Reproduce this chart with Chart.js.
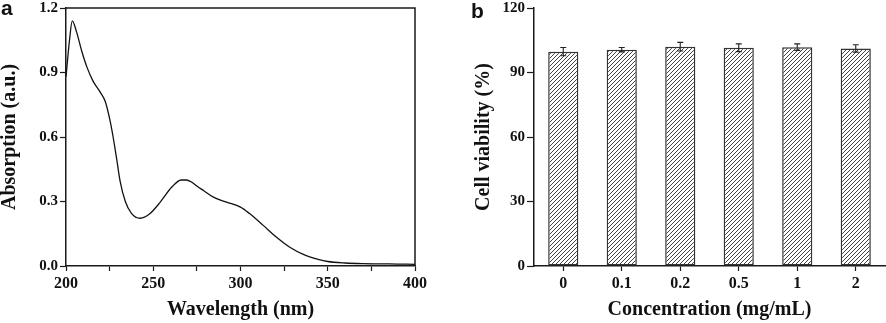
<!DOCTYPE html>
<html>
<head>
<meta charset="utf-8">
<script src="https://cdn.jsdelivr.net/npm/chart.js@4/dist/chart.umd.min.js"></script>
<style>
  html, body { margin: 0; padding: 0; background: #fff; }
  body { width: 886px; height: 323px; position: relative; overflow: hidden; }
  canvas { position: absolute; top: 0; }
  #ca { left: 0; }
  #cb { left: 440px; }
  .plbl { position: absolute; font-family: "Liberation Sans", Arial, sans-serif; font-weight: bold; line-height: 1; color: #111; }
</style>
</head>
<body>
<canvas id="ca" width="440" height="323"></canvas>
<canvas id="cb" width="446" height="323"></canvas>
<div class="plbl" style="left:1px; top:-3px; font-size:21px;">a</div>
<div class="plbl" style="left:471px; top:0px; font-size:21px;">b</div>
<script>
// ---- Panel a: UV-Vis absorption spectrum ----
const wavelength = [200, 202, 203.6, 206, 209, 212, 215.5, 219.5, 222.5, 225, 227, 229, 231, 234, 237.5, 242.5, 248, 254, 260.5, 266, 269, 272, 275, 279, 284.5, 292, 300, 305, 313, 320.5, 328.5, 336, 344.5, 350, 360, 370, 380, 390, 400];
const absorption = [0.88, 1.05, 1.14, 1.09, 1.0, 0.925, 0.86, 0.81, 0.765, 0.685, 0.60, 0.50, 0.395, 0.30, 0.245, 0.222, 0.243, 0.297, 0.366, 0.40, 0.40, 0.39, 0.372, 0.35, 0.32, 0.297, 0.274, 0.245, 0.189, 0.135, 0.086, 0.054, 0.031, 0.021, 0.014, 0.011, 0.010, 0.009, 0.008];
const absTicks = [0, 0.3, 0.6, 0.9, 1.2];
const wlTicks = [200, 250, 300, 350, 400];

// ---- Panel b: cell viability ----
const concentrations = ['0', '0.1', '0.2', '0.5', '1', '2'];
const viability = [99.7, 100.6, 102.0, 101.5, 101.8, 101.2];
const viabilityErr = [1.9, 1.0, 2.0, 1.8, 1.5, 1.7];
const viaTicks = [0, 30, 60, 90, 120];

const SERIF = '"Liberation Serif", "Times New Roman", serif';
const AXIS = '#1a1a1a';

const boxPlugin = {
  id: 'boxPlugin',
  afterDraw(chart) {
    const a = chart.chartArea, ctx = chart.ctx;
    ctx.save();
    ctx.strokeStyle = AXIS;
    ctx.lineWidth = 1.5;
    ctx.beginPath();
    ctx.moveTo(a.left, a.top);
    ctx.lineTo(a.right, a.top);
    ctx.lineTo(a.right, a.bottom);
    ctx.stroke();
    ctx.restore();
  }
};

new Chart(document.getElementById('ca'), {
  type: 'line',
  data: {
    datasets: [{
      data: wavelength.map((w, i) => ({ x: w, y: absorption[i] })),
      borderColor: '#111',
      borderWidth: 1.3,
      pointRadius: 0,
      cubicInterpolationMode: 'monotone',
      fill: false
    }]
  },
  options: {
    responsive: false,
    animation: false,
    events: [],
    layout: { padding: { top: 6, right: 25, bottom: 3, left: 0 } },
    plugins: { legend: { display: false }, tooltip: { enabled: false } },
    scales: {
      x: {
        type: 'linear', min: 200, max: 400,
        afterFit(s) { s.height = 54; },
        border: { display: true, color: AXIS, width: 1.5 },
        grid: { drawOnChartArea: false, drawTicks: true, tickLength: 5, color: AXIS, tickWidth: 1.2 },
        ticks: {
          stepSize: 25, autoSkip: false, maxRotation: 0, padding: 3,
          color: '#111', font: { family: SERIF, size: 16, weight: 'bold' },
          callback: v => (wlTicks.includes(v) ? String(v) : '')
        },
        title: { display: true, text: 'Wavelength (nm)', color: '#111', padding: 0,
                 font: { family: SERIF, size: 20, weight: 'bold', lineHeight: 1 } }
      },
      y: {
        min: 0, max: 1.2,
        afterFit(s) { s.width = 66; },
        afterBuildTicks(s) { s.ticks = absTicks.map(v => ({ value: v })); },
        border: { display: true, color: AXIS, width: 1.5 },
        grid: { drawOnChartArea: false, drawTicks: true, tickLength: 6, color: AXIS, tickWidth: 1.2 },
        ticks: {
          padding: 2, color: '#111', font: { family: SERIF, size: 15, weight: 'bold', lineHeight: 0.8 },
          callback: v => Number(v).toFixed(1)
        },
        title: { display: true, text: 'Absorption (a.u.)', color: '#111', padding: 0,
                 font: { family: SERIF, size: 20, weight: 'bold', lineHeight: 1 } }
      }
    }
  },
  plugins: [boxPlugin]
});

// hatch pattern
function makeHatch() {
  const s = 4;
  const c = document.createElement('canvas');
  c.width = s; c.height = s;
  const g = c.getContext('2d');
  g.fillStyle = '#fff';
  g.fillRect(0, 0, s, s);
  g.strokeStyle = '#444';
  g.lineWidth = 1;
  g.beginPath();
  g.moveTo(0, s); g.lineTo(s, 0);
  g.moveTo(-1, 1); g.lineTo(1, -1);
  g.moveTo(s - 1, s + 1); g.lineTo(s + 1, s - 1);
  g.stroke();
  return g.createPattern(c, 'repeat');
}

const errorBarPlugin = {
  id: 'errorBars',
  afterDatasetsDraw(chart) {
    const ctx = chart.ctx;
    const meta = chart.getDatasetMeta(0);
    const ys = chart.scales.y;
    ctx.save();
    ctx.strokeStyle = '#222';
    ctx.lineWidth = 1.1;
    meta.data.forEach((bar, i) => {
      const x = bar.x;
      const yTop = ys.getPixelForValue(viability[i] + viabilityErr[i]);
      const yBot = ys.getPixelForValue(viability[i] - viabilityErr[i]);
      const cap = 3;
      ctx.beginPath();
      ctx.moveTo(x, yTop); ctx.lineTo(x, yBot);
      ctx.moveTo(x - cap, yTop); ctx.lineTo(x + cap, yTop);
      ctx.moveTo(x - cap, yBot); ctx.lineTo(x + cap, yBot);
      ctx.stroke();
    });
    ctx.restore();
  }
};

new Chart(document.getElementById('cb'), {
  type: 'bar',
  data: {
    labels: concentrations,
    datasets: [{
      data: viability,
      backgroundColor: makeHatch(),
      borderColor: '#333',
      borderWidth: 1.5,
      borderSkipped: false,
      barPercentage: 0.515,
      categoryPercentage: 1
    }]
  },
  options: {
    responsive: false,
    animation: false,
    events: [],
    layout: { padding: { top: 6, right: 1, bottom: 3, left: 34 } },
    plugins: { legend: { display: false }, tooltip: { enabled: false } },
    scales: {
      x: {
        afterFit(s) { s.height = 54; },
        border: { display: true, color: AXIS, width: 1.5 },
        grid: { offset: false, drawOnChartArea: false, drawTicks: true, tickLength: 5, color: AXIS, tickWidth: 1.2 },
        ticks: { padding: 3, color: '#111', maxRotation: 0, font: { family: SERIF, size: 16, weight: 'bold' } },
        title: { display: true, text: 'Concentration (mg/mL)', color: '#111', padding: 0,
                 font: { family: SERIF, size: 20, weight: 'bold', lineHeight: 1 } }
      },
      y: {
        min: 0, max: 120,
        afterFit(s) { s.width = 60; },
        afterBuildTicks(s) { s.ticks = viaTicks.map(v => ({ value: v })); },
        border: { display: true, color: AXIS, width: 1.5 },
        grid: { drawOnChartArea: false, drawTicks: true, tickLength: 7, color: AXIS, tickWidth: 1.2 },
        ticks: { padding: 2, color: '#111', font: { family: SERIF, size: 15, weight: 'bold', lineHeight: 0.8 } },
        title: { display: true, text: 'Cell viability (%)', color: '#111', padding: 0,
                 font: { family: SERIF, size: 20, weight: 'bold', lineHeight: 1 } }
      }
    }
  },
  plugins: [errorBarPlugin]
});
</script>
</body>
</html>
